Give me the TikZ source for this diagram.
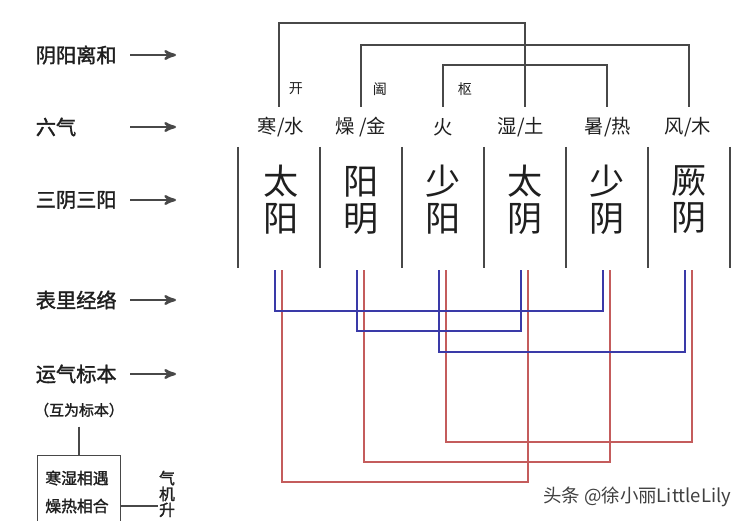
\documentclass[tikz,border=0pt]{standalone}
\usepackage{fontspec}
\setmainfont{Noto Sans CJK SC}
\newfontfamily\heavycjk[FakeBold=1.6]{Noto Sans CJK SC}
\usetikzlibrary{arrows}
\definecolor{darkline}{RGB}{72,72,72}
\definecolor{biaoli}{RGB}{58,58,168}
\definecolor{biaoben}{RGB}{196,92,92}

\begin{document}
\begin{tikzpicture}[x=0.02cm,y=-0.02cm,>=stealth',line width=0.9pt]
  \tikzstyle{every node}=[inner sep=0pt,text={black!88}]
  \tikzstyle{rowname}=[anchor=west,font=\heavycjk\fontsize{11.5}{12}\selectfont]
  \tikzstyle{qi}=[font=\fontsize{11}{12}\selectfont]
  \tikzstyle{big}=[align=center,font=\fontsize{20}{21}\selectfont]
  \tikzstyle{small}=[font=\fontsize{8}{9}\selectfont]
  \tikzstyle{boxtext}=[font=\heavycjk\fontsize{9}{10}\selectfont]
  \tikzstyle{gline}=[draw=darkline]
  \tikzstyle{bline}=[draw=biaoli,line width=0.8pt]
  \tikzstyle{rline}=[draw=biaoben,line width=0.8pt]

  \useasboundingbox (0,0) rectangle (749,520);
  \fill[white] (0,0) rectangle (749,520);

  % row names and arrows
  \node[rowname] (r1) at (35,55) {阴阳离和};
  \node[rowname] (r2) at (35,127) {六气};
  \node[rowname] (r3) at (35,200) {三阴三阳};
  \node[rowname] (r4) at (35,300) {表里经络};
  \node[rowname] (r5) at (35,374) {运气标本};
  \coordinate (ax) at (130,0);
  \coordinate (ay) at (176,0);
  \foreach \r in {r1,r2,r3,r4,r5}
    \draw[gline,->,line width=1.3pt] (\r -| ax) -- (\r -| ay);

  % six qi
  \node[qi] (q1) at (281,127) {寒/水};
  \node[qi] (q2) at (361,127) {燥 /金};
  \node[qi] (q3) at (443,127) {火};
  \node[qi] (q4) at (521,127) {湿/土};
  \node[qi] (q5) at (608,127) {暑/热};
  \node[qi] (q6) at (688,127) {风/木};

  % three yin three yang
  \node[big] (s1) at (281,200) {太\\阳};
  \node[big] (s2) at (361,200) {阳\\明};
  \node[big] (s3) at (443,200) {少\\阳};
  \node[big] (s4) at (525,200) {太\\阴};
  \node[big] (s5) at (607,200) {少\\阴};
  \node[big] (s6) at (689,200) {厥\\阴};
  \foreach \x in {238,320,...,730}
    \draw[gline] (\x,147) -- (\x,268);

  % open, close, pivot
  \foreach \i in {1,...,6} {
    \coordinate (u\i) at (197+82*\i,107);
    \coordinate (b\i) at (193+82*\i,270);
    \coordinate (h\i) at (200+82*\i,270);
  }
  \draw[gline] (u1) -- ++(0,-84) -| (u4);
  \draw[gline] (u2) -- ++(0,-62) -| (u6);
  \draw[gline] (u3) -- ++(0,-42) -| (u5);
  \node[small] (kai) at (296,89) {开};
  \node[small] (he) at (380,89) {阖};
  \node[small] (shu) at (465,89) {枢};

  % biao-li (blue), biao-ben (red)
  \draw[rline] (h1) -- ++(0,212) -| (h4);
  \draw[rline] (h2) -- ++(0,192) -| (h5);
  \draw[rline] (h3) -- ++(0,172) -| (h6);
  \draw[bline] (b1) -- ++(0,41) -| (b5);
  \draw[bline] (b2) -- ++(0,61) -| (b4);
  \draw[bline] (b3) -- ++(0,82) -| (b6);

  % bottom left box
  \node[boxtext,font=\heavycjk\fontsize{8.5}{9}\selectfont] (hw) at (79,410) {（互为标本）};
  \node[draw=darkline,line width=0.7pt,minimum width=1.66cm,minimum height=1.8cm,anchor=north] (box) at (79,455) {};
  \node[boxtext] (bt1) at (77,478) {寒湿相遇};
  \node[boxtext] (bt2) at (77,506) {燥热相合};
  \node[boxtext,align=center,font=\heavycjk\fontsize{9}{9}\selectfont,anchor=north] (qj) at (167,470) {气\\机\\升};
  \draw[gline,line width=0.7pt] ([yshift=-5pt]hw.south) -- (box.north);
  \draw[gline,line width=0.7pt] (box.east |- bt2) -- (qj.west |- bt2);

  \node[font=\fontsize{10.5}{11}\selectfont,text=black!75] (wm) at (637,497) {头条 @徐小丽LittleLily};
\end{tikzpicture}
\end{document}
